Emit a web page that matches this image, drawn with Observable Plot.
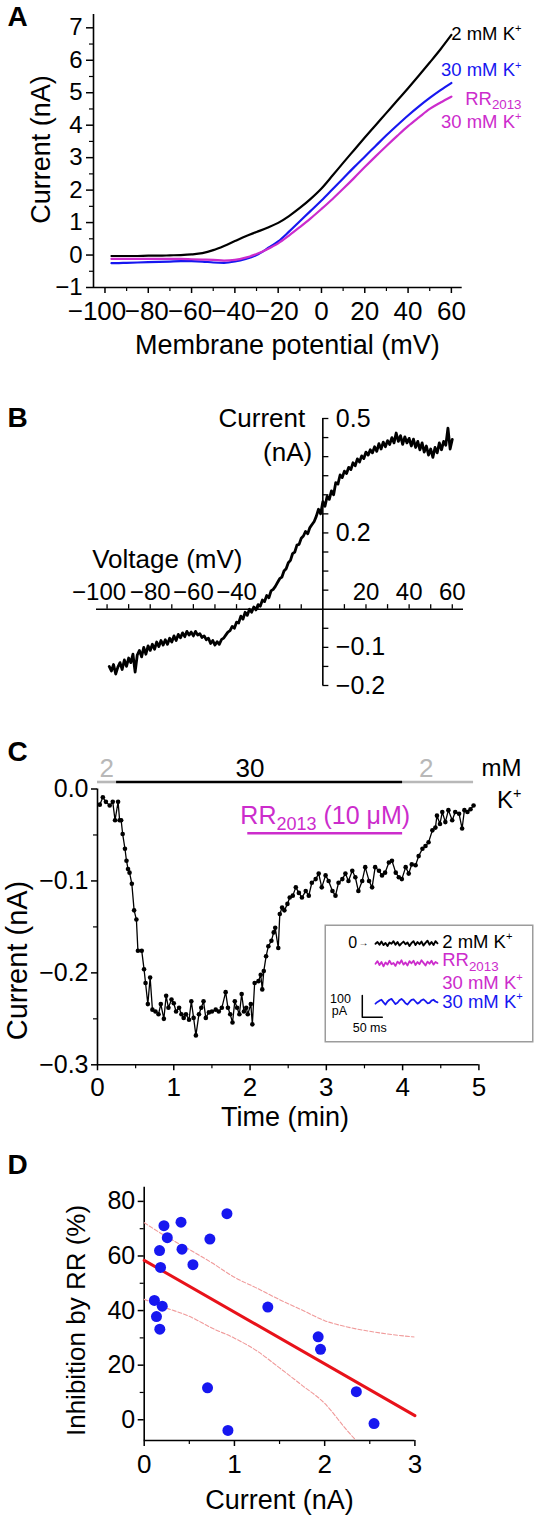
<!DOCTYPE html>
<html><head><meta charset="utf-8">
<script src="https://cdn.jsdelivr.net/npm/d3@7"></script>
<script src="https://cdn.jsdelivr.net/npm/@observablehq/plot@0.6"></script>
<style>
html,body{margin:0;padding:0;background:#fff;}
#root{position:relative;width:534px;height:1516px;overflow:hidden;background:#fff;}
#root>div{position:absolute;}
</style></head><body><div id="root"></div>
<script>
// ---------------- Panel A : I-V curves ----------------
const aVoltage = [-97,-95,-90,-85,-80,-75,-70,-65,-60,-55,-50,-45,-40,-35,-30,-25,-20,-15,-10,-5,0,5,10,15,20,25,30,35,40,45,50,55,60];
const a2mM = [-0.03,-0.03,-0.03,-0.03,-0.02,-0.02,-0.01,0.0,0.02,0.06,0.15,0.28,0.43,0.58,0.71,0.84,0.99,1.2,1.45,1.73,2.05,2.44,2.84,3.23,3.62,4.0,4.38,4.76,5.14,5.53,5.93,6.34,6.78];
const a30mM = [-0.25,-0.25,-0.24,-0.23,-0.22,-0.21,-0.2,-0.19,-0.19,-0.2,-0.23,-0.24,-0.2,-0.12,0.0,0.2,0.42,0.72,1.04,1.36,1.68,2.02,2.36,2.7,3.03,3.36,3.69,4.0,4.3,4.58,4.84,5.08,5.3];
const aRR30mM = [-0.12,-0.12,-0.12,-0.12,-0.12,-0.12,-0.12,-0.12,-0.13,-0.14,-0.15,-0.17,-0.15,-0.08,0.03,0.18,0.36,0.6,0.86,1.13,1.42,1.72,2.04,2.37,2.71,3.04,3.36,3.67,3.97,4.24,4.5,4.7,4.88];
const aLabels = ["2 mM K^{+}", "30 mM K^{+}", "RR_{2013}", "30 mM K^{+}"];
const aXTicks = [-100,-80,-60,-40,-20,0,20,40,60];
const aYTicks = [-1,0,1,2,3,4,5,6,7];

// ---------------- Panel B : difference current ----------------
const bStartMv = -99; // one sample per mV
const bCurrent = [
-0.150,-0.162,-0.145,-0.170,-0.152,-0.140,-0.158,-0.133,-0.150,-0.128,
-0.140,-0.118,-0.165,-0.120,-0.108,-0.125,-0.100,-0.118,-0.096,-0.108,
-0.092,-0.105,-0.086,-0.098,-0.082,-0.094,-0.080,-0.092,-0.076,-0.086,
-0.070,-0.082,-0.066,-0.075,-0.062,-0.072,-0.058,-0.068,-0.060,-0.070,
-0.058,-0.068,-0.064,-0.074,-0.070,-0.080,-0.076,-0.090,-0.082,-0.094,
-0.085,-0.092,-0.080,-0.076,-0.068,-0.060,-0.056,-0.045,-0.050,-0.034,
-0.036,-0.018,-0.026,-0.008,-0.016,0.000,-0.008,0.006,-0.002,0.012,
0.008,0.024,0.020,0.036,0.030,0.048,0.052,0.060,0.070,0.080,
0.084,0.100,0.106,0.122,0.128,0.146,0.150,0.168,0.170,0.186,
0.192,0.204,0.198,0.214,0.222,0.230,0.244,0.262,0.250,0.282,
0.270,0.296,0.288,0.310,0.300,0.332,0.328,0.352,0.345,0.362,
0.356,0.372,0.366,0.384,0.376,0.394,0.386,0.402,0.395,0.412,
0.404,0.418,0.410,0.426,0.414,0.434,0.420,0.438,0.426,0.442,
0.432,0.450,0.436,0.462,0.440,0.455,0.432,0.452,0.436,0.448,
0.428,0.446,0.424,0.440,0.418,0.436,0.412,0.428,0.404,0.420,
0.398,0.424,0.410,0.436,0.418,0.440,0.430,0.475,0.420,0.445];
const bXTicks = [-100,-90,-80,-70,-60,-50,-40,-30,-20,-10,10,20,30,40,50,60];
const bXLabels = [-100,-80,-60,-40,20,40,60];
const bYTicks = [-0.2,-0.15,-0.1,-0.05,0.05,0.1,0.15,0.2,0.25,0.3,0.35,0.4,0.45,0.5];
const bYLabels = [0.5,0.2,-0.1,-0.2];

// ---------------- Panel C : time course ----------------
const cTime = [0.03,0.07,0.11,0.16,0.20,0.23,0.27,0.29,0.31,0.33,
0.36,0.38,0.40,0.42,0.45,0.48,0.51,0.53,0.58,0.61,
0.63,0.66,0.69,0.72,0.76,0.80,0.83,0.87,0.90,0.93,
0.97,1.00,1.03,1.07,1.10,1.13,1.16,1.20,1.23,1.26,
1.29,1.33,1.36,1.39,1.42,1.46,1.50,1.55,1.59,1.63,
1.68,1.71,1.74,1.77,1.80,1.83,1.86,1.89,1.92,1.95,
1.97,2.01,2.03,2.06,2.11,2.14,2.16,2.18,2.21,2.24,
2.28,2.31,2.33,2.37,2.39,2.42,2.45,2.49,2.52,2.56,
2.60,2.64,2.68,2.73,2.77,2.81,2.86,2.90,2.94,2.99,
3.03,3.08,3.12,3.16,3.21,3.25,3.29,3.34,3.38,3.42,
3.47,3.51,3.56,3.60,3.64,3.69,3.73,3.77,3.82,3.86,
3.91,3.95,3.99,4.04,4.08,4.12,4.17,4.21,4.26,4.30,
4.34,4.39,4.43,4.45,4.49,4.52,4.56,4.60,4.65,4.69,
4.74,4.78,4.81,4.85,4.89,4.93];
const cCurrent = [-0.017,-0.009,-0.014,-0.018,-0.014,-0.034,-0.014,-0.034,-0.034,-0.049,
-0.065,-0.078,-0.087,-0.091,-0.103,-0.132,-0.142,-0.176,-0.176,-0.196,
-0.211,-0.234,-0.205,-0.240,-0.242,-0.245,-0.234,-0.250,-0.225,-0.238,
-0.229,-0.233,-0.242,-0.238,-0.245,-0.249,-0.245,-0.251,-0.231,-0.249,
-0.268,-0.245,-0.238,-0.231,-0.249,-0.243,-0.242,-0.240,-0.242,-0.238,
-0.221,-0.238,-0.245,-0.254,-0.231,-0.238,-0.245,-0.223,-0.242,-0.238,
-0.245,-0.234,-0.256,-0.211,-0.209,-0.202,-0.218,-0.198,-0.182,-0.171,
-0.165,-0.156,-0.151,-0.173,-0.136,-0.129,-0.132,-0.125,-0.118,-0.116,
-0.107,-0.113,-0.118,-0.111,-0.116,-0.102,-0.098,-0.092,-0.107,-0.094,
-0.100,-0.111,-0.116,-0.102,-0.098,-0.092,-0.100,-0.089,-0.096,-0.111,
-0.100,-0.085,-0.100,-0.107,-0.085,-0.089,-0.094,-0.091,-0.080,-0.078,
-0.091,-0.096,-0.098,-0.085,-0.092,-0.082,-0.083,-0.073,-0.065,-0.062,
-0.058,-0.045,-0.042,-0.029,-0.038,-0.025,-0.036,-0.023,-0.034,-0.025,
-0.027,-0.043,-0.023,-0.025,-0.022,-0.018];
const cSolution = [
  {from: 0, to: 0.25, label: "2", at: 0.12, kind: "2 mM"},
  {from: 0.25, to: 4.0, label: "30", at: 2.0, kind: "30 mM"},
  {from: 4.0, to: 4.93, label: "2", at: 4.31, kind: "2 mM"}];
const cDrug = [{from: 1.97, to: 4.0, label: "RR_{2013} (10 \u03BCM)"}];
const cYTicks = [0,-0.1,-0.2,-0.3];
const cYMinor = [-0.05,-0.15,-0.25];
const cXTicks = [0,1,2,3,4,5];
const cXMinor = [0.5,1.5,2.5,3.5,4.5];

// inset traces (ms, pA)
const insetMs = [0,5,10,15,20,25,30,35,40,45,50,55,60,65,70,75,80,85,90,95,100,105,110,115,120,125,130,135,140,145,150,155];
const inset2mM = [0,8,-4,10,-6,4,-10,6,0,12,-4,8,-8,2,10,-2,6,-10,4,12,-6,8,-2,10,-8,4,14,-4,8,-6,12,2];
const insetRR = [-92,-80,-98,-84,-104,-86,-96,-78,-94,-88,-102,-82,-92,-76,-96,-86,-100,-80,-90,-78,-98,-84,-94,-76,-88,-100,-82,-92,-78,-96,-84,-90];
const inset30mM = [-276,-268,-262,-258,-270,-280,-266,-258,-254,-266,-278,-272,-260,-254,-262,-274,-280,-268,-258,-256,-266,-276,-270,-260,-256,-264,-274,-272,-262,-258,-266,-270];
const insetScale = {ms: 50, pA: 100, cornerMs: -33, cornerPA: -338};

// ---------------- Panel D : correlation ----------------
const dCurrent = [0.917,0.408,0.219,0.256,0.728,0.170,0.419,0.540,0.181,0.113,0.200,0.136,0.173,1.37,1.928,1.954,0.702,2.351,0.928,2.547];
const dInhibition = [75.5,72.4,71.1,66.7,66.2,62.0,62.5,56.8,55.8,43.7,41.6,37.8,33.2,41.3,30.4,25.8,11.7,10.3,-3.9,-1.4];
const dFitX = [0, 3];
const dFitY = [58.4, 1.5];
const dBandX = [0,0.25,0.5,0.75,1.0,1.25,1.5,1.75,2.0,2.25,2.5,2.75,3.0];
const dBandUpper = [72.2,67.0,62.4,57.5,52.2,48.2,44.0,40.2,36.3,34.0,32.4,31.2,30.3];
const dBandLower = [44.1,40.9,37.9,33.6,29.9,25.2,19.0,12.6,6.0,-4.0,-13.0,-22.0,-31.0];
const dYTicks = [0,20,40,60,80];
const dYMinor = [10,30,50,70];
const dXTicks = [0,1,2,3];
const dXMinor = [0.5,1.5,2.5];

// ---------------- helpers ----------------
const FONT = "'Liberation Sans', Arial, Helvetica, sans-serif";
const BLUE = "#1717f0", MAGENTA = "#cc2ccc", GRAY = "#b8b8b8", RED = "#e8121a";
const style = {fontFamily: FONT, color: "#000", background: "transparent", overflow: "visible"};
const fmtInt = d => d < 0 ? "\u2212" + (-d) : String(d);
const fmt1 = d3.format(".1f");
const root = document.getElementById("root");
const NS = "http://www.w3.org/2000/svg";
const C = {textAnchor: "middle", lineAnchor: "middle"};

function enrich(svg) {
  for (const t of svg.querySelectorAll("text")) {
    const s = t.textContent;
    if (!/[\^_]\{/.test(s) || t.querySelector("tspan")) continue;
    const fs = parseFloat(getComputedStyle(t).fontSize) || 16;
    t.textContent = "";
    let shift = 0;
    const add = (str, kind) => {
      const ts = document.createElementNS(NS, "tspan");
      let target = 0, size = null;
      if (kind === "^") { target = -0.42 * fs; size = 0.6 * fs; }
      else if (kind === "_") { target = 0.24 * fs; size = 0.72 * fs; }
      const dy = target - shift;
      if (dy) ts.setAttribute("dy", dy.toFixed(2));
      shift = target;
      if (size) ts.setAttribute("font-size", size.toFixed(2));
      ts.textContent = str;
      t.appendChild(ts);
    };
    const re = /([\^_])\{([^}]*)\}/g;
    let last = 0, m;
    while ((m = re.exec(s))) {
      if (m.index > last) add(s.slice(last, m.index), null);
      add(m[2], m[1]);
      last = re.lastIndex;
    }
    if (last < s.length) add(s.slice(last), null);
  }
}
function mount(svg, left, top) {
  const d = document.createElement("div");
  d.style.left = left + "px"; d.style.top = top + "px";
  d.appendChild(svg); root.appendChild(d); enrich(svg);
}

// ---------------- Panel A ----------------
{
  const rows = aVoltage.map((v, i) => ({v, k2: a2mM[i], k30: a30mM[i], rr: aRR30mM[i]}));
  const svg = Plot.plot({
    width: 534, height: 365,
    marginLeft: 93, marginRight: 72.3, marginTop: 14, marginBottom: 78,
    x: {domain: [-105.3, 65]}, y: {domain: [-1, 7.41]},
    style,
    marks: [
      Plot.ruleX([-105.3], {strokeWidth: 1.6}),
      Plot.ruleY([-1], {strokeWidth: 1.6}),
      Plot.axisY({ticks: aYTicks, tickSize: 7, tickPadding: 4, fontSize: 24, strokeWidth: 1.5, tickFormat: fmtInt, label: null}),
      Plot.axisY({ticks: aYTicks.slice(0, -1).map(d => d + 0.5), tickSize: 4, strokeWidth: 1.2, tickFormat: () => "", label: null}),
      Plot.axisX({ticks: aXTicks, tickSize: 6, strokeWidth: 1.5, tickFormat: () => "", label: null}),
      Plot.axisX({ticks: aXTicks.slice(0, -1).map(d => d + 10), tickSize: 4, strokeWidth: 1.2, tickFormat: () => "", label: null}),
      Plot.text(aXTicks.filter(d => d === -100), {x: d => d, text: fmtInt, frameAnchor: "bottom", textAnchor: "middle", lineAnchor: "top", dy: 14, dx: -8, fontSize: 26}),
      Plot.text(aXTicks.filter(d => d < 0 && d > -100), {x: d => d, text: fmtInt, frameAnchor: "bottom", textAnchor: "middle", lineAnchor: "top", dy: 14, dx: -1.5, fontSize: 26}),
      Plot.text(aXTicks.filter(d => d >= 0), {x: d => d, text: fmtInt, frameAnchor: "bottom", textAnchor: "middle", lineAnchor: "top", dy: 14, fontSize: 26}),
      Plot.text(["Membrane potential (mV)"], {frameAnchor: "bottom", textAnchor: "middle", lineAnchor: "top", dx: 9.5, dy: 47, fontSize: 27}),
      Plot.text(["Current (nA)"], {frameAnchor: "left", ...C, rotate: -90, dx: -52, dy: -1.5, fontSize: 27}),
      Plot.text(["A"], {frameAnchor: "top-left", textAnchor: "start", lineAnchor: "bottom", dx: -86, dy: 11, fontSize: 28, fontWeight: "bold"}),
      Plot.line(rows, {x: "v", y: "k2", stroke: "#000", strokeWidth: 2.2, curve: "monotone-x"}),
      Plot.line(rows, {x: "v", y: "k30", stroke: BLUE, strokeWidth: 2.2, curve: "monotone-x"}),
      Plot.line(rows, {x: "v", y: "rr", stroke: MAGENTA, strokeWidth: 2.2, curve: "monotone-x"}),
      Plot.text([aLabels[0]], {frameAnchor: "top-right", textAnchor: "end", lineAnchor: "middle", dx: 59.3, dy: 19.3, fontSize: 18.5, fill: "#000"}),
      Plot.text([aLabels[1]], {frameAnchor: "top-right", textAnchor: "end", lineAnchor: "middle", dx: 59.3, dy: 56, fontSize: 18.5, fill: BLUE}),
      Plot.text([aLabels[2]], {frameAnchor: "top-right", textAnchor: "end", lineAnchor: "middle", dx: 59.3, dy: 84.3, fontSize: 18.5, fill: MAGENTA}),
      Plot.text([aLabels[3]], {frameAnchor: "top-right", textAnchor: "end", lineAnchor: "middle", dx: 59.3, dy: 107.7, fontSize: 18.5, fill: MAGENTA})
    ]
  });
  mount(svg, 0, 0);
}

// ---------------- Panel B ----------------
{
  const rows = bCurrent.map((c, i) => ({v: bStartMv + i, c}));
  const svg = Plot.plot({
    width: 534, height: 330,
    marginLeft: 96, marginRight: 71, marginTop: 38, marginBottom: 25,
    x: {domain: [-104.9, 65.2], axis: null}, y: {domain: [-0.2, 0.5], axis: null},
    style,
    marks: [
      Plot.ruleY([0], {strokeWidth: 1.6}),
      Plot.ruleX([0], {y1: -0.2, y2: 0.5, strokeWidth: 1.6}),
      Plot.ruleX(bXTicks, {x: d => d, y1: 0, y2: 0.012, strokeWidth: 1.3}),
      Plot.ruleY(bYTicks, {y: d => d, x1: 0, x2: 2.8, strokeWidth: 1.3}),
      Plot.text(bYLabels, {x: 0, y: d => d, text: fmt1, textAnchor: "start", lineAnchor: "middle", dx: 13, fontSize: 25}),
      Plot.text(bXLabels.filter(d => d === -100), {x: d => d, y: 0, text: fmtInt, ...C, dy: -17, dx: -8, fontSize: 24}),
      Plot.text(bXLabels.filter(d => d !== -100), {x: d => d, y: 0, text: fmtInt, ...C, dy: -17, fontSize: 24}),
      Plot.text(["Voltage (mV)"], {frameAnchor: "top-left", ...C, dx: 70.8, dy: 141, fontSize: 26}),
      Plot.text(["Current"], {frameAnchor: "top-left", textAnchor: "end", lineAnchor: "middle", dx: 208.7, dy: 0.3, fontSize: 26}),
      Plot.text(["(nA)"], {frameAnchor: "top-left", textAnchor: "end", lineAnchor: "middle", dx: 215.7, dy: 34, fontSize: 26}),
      Plot.text(["B"], {frameAnchor: "top-left", textAnchor: "start", lineAnchor: "bottom", dx: -89, dy: 8, fontSize: 28, fontWeight: "bold"}),
      Plot.line(rows, {x: "v", y: "c", stroke: "#000", strokeWidth: 2.8})
    ]
  });
  mount(svg, 0, 380);
}

// ---------------- Panel C ----------------
{
  const rows = cTime.map((t, i) => ({t, c: cCurrent[i]}));
  const svg = Plot.plot({
    width: 534, height: 405,
    marginLeft: 97, marginRight: 55.6, marginTop: 58.5, marginBottom: 70.7,
    x: {domain: [0, 5]}, y: {domain: [-0.3, 0]},
    style,
    marks: [
      Plot.ruleX([0], {strokeWidth: 1.6}),
      Plot.ruleY([-0.3], {strokeWidth: 1.6}),
      Plot.axisY({ticks: cYTicks, tickSize: 6, tickPadding: 3, fontSize: 25, strokeWidth: 1.5, tickFormat: fmt1, label: null}),
      Plot.axisY({ticks: cYMinor, tickSize: 4, strokeWidth: 1.2, tickFormat: () => "", label: null}),
      Plot.axisX({ticks: cXTicks, tickSize: 6, tickPadding: 7, fontSize: 26, strokeWidth: 1.5, tickFormat: fmtInt, label: null}),
      Plot.axisX({ticks: cXMinor, tickSize: 4, strokeWidth: 1.2, tickFormat: () => "", label: null}),
      Plot.text(["Time (min)"], {frameAnchor: "bottom", ...C, dx: -3.3, dy: 52.7, fontSize: 27}),
      Plot.text(["Current (nA)"], {frameAnchor: "left", ...C, rotate: -90, dx: -79.5, dy: 33.6, fontSize: 29}),
      Plot.text(["C"], {frameAnchor: "top-left", textAnchor: "start", lineAnchor: "bottom", dx: -90, dy: -28.5, fontSize: 28, fontWeight: "bold"}),
      Plot.ruleY(cSolution.filter(d => d.kind === "2 mM"), {x1: "from", x2: "to", y: 0, dy: -7, stroke: GRAY, strokeWidth: 2.6}),
      Plot.ruleY(cSolution.filter(d => d.kind === "30 mM"), {x1: "from", x2: "to", y: 0, dy: -7, stroke: "#000", strokeWidth: 2.6}),
      Plot.text(cSolution.filter(d => d.kind === "2 mM"), {x: "at", y: 0, text: "label", ...C, dy: -20.2, fontSize: 26, fill: GRAY}),
      Plot.text(cSolution.filter(d => d.kind === "30 mM"), {x: "at", y: 0, text: "label", ...C, dy: -20.2, fontSize: 26, fill: "#000"}),
      Plot.text(["mM"], {frameAnchor: "top-right", textAnchor: "end", lineAnchor: "middle", dx: 42.6, dy: -20.2, fontSize: 24}),
      Plot.text(["K^{+}"], {frameAnchor: "top-right", textAnchor: "end", lineAnchor: "middle", dx: 42.6, dy: 11.5, fontSize: 24}),
      Plot.ruleY(cDrug, {x1: "from", x2: "to", y: 0, dy: 44.2, stroke: MAGENTA, strokeWidth: 2.6}),
      Plot.text(cDrug, {x: d => (d.from + d.to) / 2, y: 0, text: "label", ...C, dy: 26.5, fontSize: 25, fill: MAGENTA}),
      Plot.line(rows, {x: "t", y: "c", stroke: "#000", strokeWidth: 1.3}),
      Plot.dot(rows, {x: "t", y: "c", r: 2.3, fill: "#000", stroke: null})
    ]
  });
  mount(svg, 0, 730);

  // inset
  const ins = insetMs.map((ms, i) => ({ms, k2: inset2mM[i], rr: insetRR[i], k30: inset30mM[i]}));
  const s = insetScale;
  const bar = [
    {ms: s.cornerMs, pA: s.cornerPA + s.pA},
    {ms: s.cornerMs, pA: s.cornerPA},
    {ms: s.cornerMs + s.ms, pA: s.cornerPA}];
  const inset = Plot.plot({
    width: 209, height: 118, margin: 0,
    x: {domain: [-127.5, 395], axis: null}, y: {domain: [-454.9, 88.9], axis: null},
    style: {...style, background: "#fff"},
    marks: [
      Plot.frame({stroke: "#9c9c9c", strokeWidth: 1.5, inset: 0.75}),
      Plot.line(ins, {x: "ms", y: "k2", stroke: "#000", strokeWidth: 1.9}),
      Plot.line(ins, {x: "ms", y: "rr", stroke: MAGENTA, strokeWidth: 1.8}),
      Plot.line(ins, {x: "ms", y: "k30", stroke: BLUE, strokeWidth: 1.8}),
      Plot.line(bar, {x: "ms", y: "pA", stroke: "#000", strokeWidth: 1.5}),
      Plot.text(["0"], {frameAnchor: "top-left", ...C, dx: 28.3, dy: 18.5, fontSize: 16}),
      Plot.text(["\u2192"], {frameAnchor: "top-left", ...C, dx: 39, dy: 18, fontSize: 10}),
      Plot.text(["2 mM K^{+}"], {frameAnchor: "top-left", textAnchor: "start", lineAnchor: "middle", dx: 117.7, dy: 17.7, fontSize: 18.5, fill: "#000"}),
      Plot.text(["RR_{2013}"], {frameAnchor: "top-left", textAnchor: "start", lineAnchor: "middle", dx: 117.7, dy: 36, fontSize: 18.5, fill: MAGENTA}),
      Plot.text(["30 mM K^{+}"], {frameAnchor: "top-left", textAnchor: "start", lineAnchor: "middle", dx: 117.7, dy: 58.5, fontSize: 18.5, fill: MAGENTA}),
      Plot.text(["30 mM K^{+}"], {frameAnchor: "top-left", textAnchor: "start", lineAnchor: "middle", dx: 117.7, dy: 77.7, fontSize: 18.5, fill: BLUE}),
      Plot.text(["100"], {frameAnchor: "top-left", ...C, dx: 16, dy: 74.3, fontSize: 12.5}),
      Plot.text(["pA"], {frameAnchor: "top-left", ...C, dx: 15, dy: 86, fontSize: 12.5}),
      Plot.text(["50 ms"], {frameAnchor: "top-left", ...C, dx: 45.2, dy: 103.3, fontSize: 12.5})
    ]
  });
  mount(inset, 324, 924);
}

// ---------------- Panel D ----------------
{
  const pts = dCurrent.map((c, i) => ({c, inh: dInhibition[i]}));
  const fit = dFitX.map((x, i) => ({x, y: dFitY[i]}));
  const up = dBandX.map((x, i) => ({x, y: dBandUpper[i]}));
  const lo = dBandX.map((x, i) => ({x, y: dBandLower[i]}));
  const svg = Plot.plot({
    width: 534, height: 376,
    marginLeft: 143.7, marginRight: 119.6, marginTop: 46.7, marginBottom: 76,
    x: {domain: [0, 3]}, y: {domain: [-7.6, 85.2]},
    style,
    marks: [
      Plot.ruleX([0], {strokeWidth: 1.6}),
      Plot.ruleY([-7.6], {strokeWidth: 1.6}),
      Plot.axisY({ticks: dYTicks, tickSize: 6, tickPadding: 3, fontSize: 25, strokeWidth: 1.5, tickFormat: fmtInt, label: null}),
      Plot.axisY({ticks: dYMinor, tickSize: 4, strokeWidth: 1.2, tickFormat: () => "", label: null}),
      Plot.axisX({ticks: dXTicks, tickSize: 6, tickPadding: 8, fontSize: 26, strokeWidth: 1.5, tickFormat: fmtInt, label: null}),
      Plot.axisX({ticks: dXMinor, tickSize: 4, strokeWidth: 1.2, tickFormat: () => "", label: null}),
      Plot.text(["Current (nA)"], {frameAnchor: "bottom", ...C, dy: 60, fontSize: 27}),
      Plot.text(["Inhibition by RR (%)"], {frameAnchor: "left", ...C, rotate: -90, dx: -67.1, dy: 6.6, fontSize: 26}),
      Plot.text(["D"], {frameAnchor: "top-left", textAnchor: "start", lineAnchor: "bottom", dx: -136.7, dy: -13.7, fontSize: 28, fontWeight: "bold"}),
      Plot.line(up, {x: "x", y: "y", stroke: "#f09a9a", strokeWidth: 1.1, strokeDasharray: "4,2", clip: true, curve: "monotone-x"}),
      Plot.line(lo, {x: "x", y: "y", stroke: "#f09a9a", strokeWidth: 1.1, strokeDasharray: "4,2", clip: true, curve: "monotone-x"}),
      Plot.line(fit, {x: "x", y: "y", stroke: RED, strokeWidth: 3}),
      Plot.dot(pts, {x: "c", y: "inh", r: 5.5, fill: BLUE, stroke: null})
    ]
  });
  mount(svg, 0, 1140);
}
</script></body></html>
